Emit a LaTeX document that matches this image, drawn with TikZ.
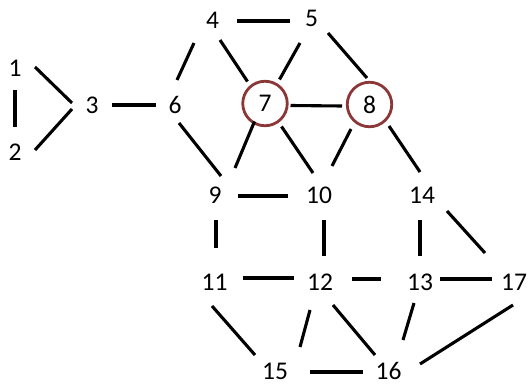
\documentclass[tikz,border=0pt]{standalone}
\usepackage{fontspec}
\setmainfont{Carlito}
\usetikzlibrary{calc}
\definecolor{ringc}{RGB}{140,55,55}
\tikzset{
  lbl/.style={font=\fontsize{25.5}{30}\selectfont, inner sep=0pt, text=black},
  ring/.style={lbl, circle, draw=ringc, line width=2.8pt, minimum size=44.5pt},
  link/.style={line width=3.1pt, black}
}
\newcommand\edg[4]{\draw[link] ($(#1)+(#2)$) -- ($(#3)+(#4)$);}
\begin{document}
\begin{tikzpicture}[x=1pt,y=-1pt]
\useasboundingbox (0,0) rectangle (529,385);
\node[lbl] (n1) at (15,68.5) {1};
\node[lbl] (n2) at (15,152.5) {2};
\node[lbl] (n3) at (92,105) {3};
\node[lbl] (n4) at (212.5,20) {4};
\node[lbl] (n5) at (311.5,18.5) {5};
\node[lbl] (n6) at (175,105) {6};
\node[ring] (n7) at (265,103.5) {7};
\node[ring] (n8) at (369.5,104.5) {8};
\node[lbl] (n9) at (215,195) {9};
\node[lbl] (n10) at (319,195) {10};
\node[lbl] (n14) at (422,195) {14};
\node[lbl] (n11) at (214.5,282) {11};
\node[lbl] (n12) at (320,282) {12};
\node[lbl] (n13) at (420,282) {13};
\node[lbl] (n17) at (514,282) {17};
\node[lbl] (n15) at (275,371) {15};
\node[lbl] (n16) at (388.5,371) {16};
\edg{n1}{0,22}{n2}{0,-25.5}
\edg{n1}{20,-1.5}{n3}{-20,-2}
\edg{n2}{20,-2.5}{n3}{-20,4}
\edg{n3}{20,0}{n6}{-19,0}
\edg{n4}{24.5,1}{n5}{-21.5,2.5}
\edg{n4}{-18.5,23}{n6}{2,-25}
\edg{n4}{7.5,20}{n7}{-17.5,-22}
\edg{n5}{-11.5,24.5}{n7}{14.5,-24}
\edg{n5}{16.5,14.5}{n8}{-2.5,-26.5}
\edg{n7}{25.5,2}{n8}{-27.5,1.5}
\edg{n6}{4,18}{n9}{6,-19}
\edg{n7}{-10.5,18}{n9}{20,-27}
\edg{n7}{16.5,23}{n10}{-6,-22}
\edg{n8}{-18.5,24.5}{n10}{13,-29}
\edg{n8}{19.5,21.5}{n14}{-2,-23}
\edg{n9}{23,1}{n10}{-31,1}
\edg{n9}{1,25}{n11}{1.5,-34}
\edg{n10}{5,25}{n12}{4,-26}
\edg{n14}{-2,25}{n13}{0,-26}
\edg{n14}{25,16}{n17}{-29,-29}
\edg{n11}{28.5,-4}{n12}{-26,-4}
\edg{n12}{32,-3}{n13}{-39,-3}
\edg{n13}{20,-3}{n17}{-22,-3}
\edg{n11}{-2.5,24}{n15}{-20,-16}
\edg{n12}{-10,28}{n15}{25,-24}
\edg{n12}{13,23}{n16}{-13.5,-16}
\edg{n13}{-6,21}{n16}{14.5,-31}
\edg{n17}{-1,23}{n16}{31.5,-7}
\edg{n15}{35,1}{n16}{-25.5,1}
\end{tikzpicture}
\end{document}
